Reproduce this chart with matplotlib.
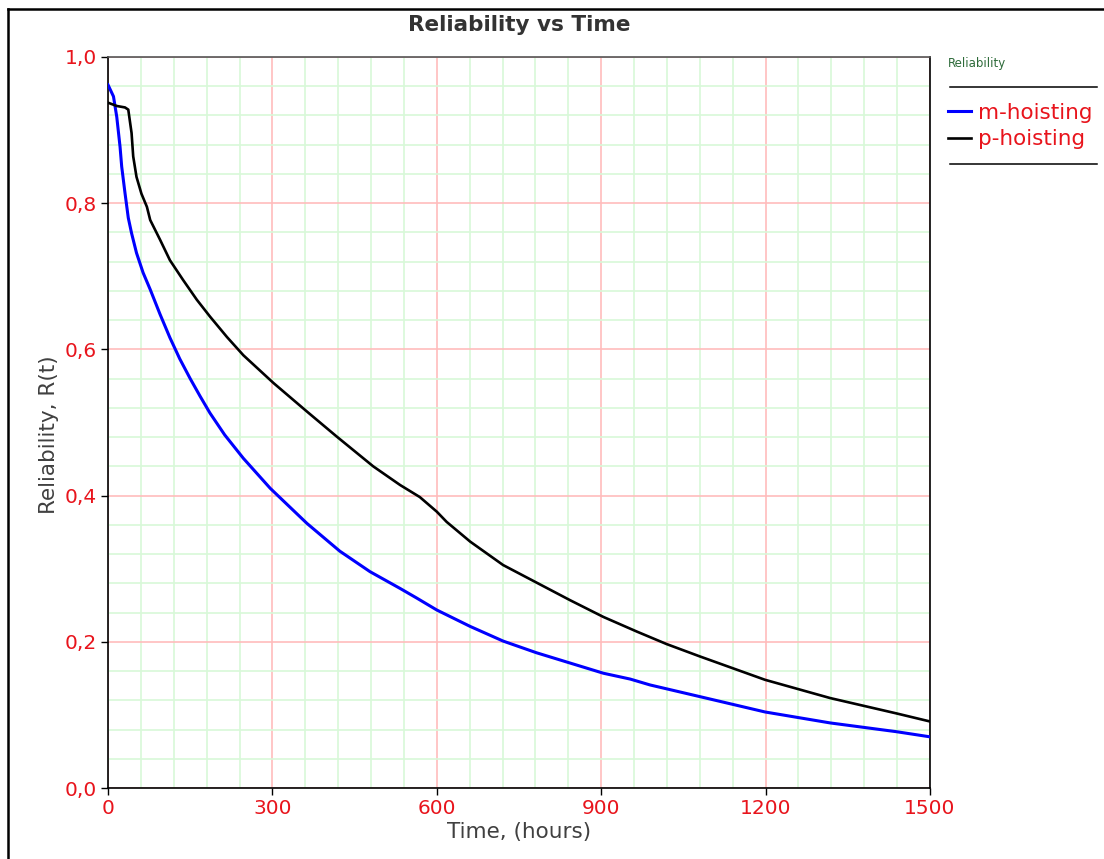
import matplotlib
matplotlib.use("Agg")
import matplotlib.pyplot as plt
from matplotlib.lines import Line2D
from matplotlib.ticker import MultipleLocator, FuncFormatter

# ---- data ----
m_time = [0, 10, 16, 22, 25, 31, 37, 43, 52, 64, 77, 95, 113, 131, 150, 168, 186,
          213, 247, 296, 363, 423, 478, 533, 563, 600, 661, 721, 782, 843, 904, 953,
          989, 1080, 1199, 1318, 1439, 1500]
m_rel = [0.962, 0.946, 0.918, 0.877, 0.850, 0.814, 0.780, 0.759, 0.732, 0.705, 0.682,
         0.648, 0.616, 0.587, 0.560, 0.536, 0.513, 0.483, 0.451, 0.410, 0.362, 0.324,
         0.296, 0.273, 0.260, 0.2435, 0.221, 0.201, 0.185, 0.171, 0.157, 0.149,
         0.141, 0.125, 0.104, 0.089, 0.077, 0.070]

p_time = [0, 16, 31, 37, 43, 46, 52, 61, 71, 77, 95, 113, 137, 162, 186, 217, 247,
          302, 363, 417, 484, 533, 569, 600, 618, 661, 721, 782, 843, 904, 965, 1019,
          1080, 1199, 1318, 1439, 1500]
p_rel = [0.9375, 0.933, 0.931, 0.928, 0.896, 0.864, 0.836, 0.813, 0.795, 0.777, 0.750,
         0.722, 0.695, 0.668, 0.645, 0.617, 0.592, 0.554, 0.515, 0.481, 0.440, 0.4145,
         0.398, 0.378, 0.364, 0.337, 0.305, 0.281, 0.257, 0.234, 0.214, 0.197, 0.180,
         0.148, 0.123, 0.102, 0.091]

series_labels = ["m-hoisting", "p-hoisting"]
series_colors = ["#0000ff", "#000000"]
x_ticks = [0, 300, 600, 900, 1200, 1500]
y_ticks = [0.0, 0.2, 0.4, 0.6, 0.8, 1.0]

W, H = 1104, 859
fig = plt.figure(figsize=(W / 100, H / 100), dpi=100)
ax = fig.add_axes([108 / W, 1 - 788 / H, (930 - 108) / W, (788 - 57) / H])

l1, = ax.plot(m_time, m_rel, color=series_colors[0], lw=2.2, label=series_labels[0],
              solid_joinstyle="round", zorder=4)
l2, = ax.plot(p_time, p_rel, color=series_colors[1], lw=1.9, label=series_labels[1],
              solid_joinstyle="round", zorder=5)

ax.set_xlim(0, 1500)
ax.set_ylim(0, 1.0)
ax.set_xticks(x_ticks)
ax.set_yticks(y_ticks)
ax.xaxis.set_minor_locator(MultipleLocator(60))
ax.yaxis.set_minor_locator(MultipleLocator(0.04))
ax.yaxis.set_major_formatter(FuncFormatter(lambda v, p: f"{v:.1f}".replace(".", ",")))
ax.tick_params(which="major", direction="out", length=5, width=1, color="black",
               labelcolor="#e8141c", labelsize=14.5, pad=3)
ax.tick_params(which="minor", length=0)

ax.grid(which="minor", color="#d8f8d8", lw=1.2, zorder=0)
ax.grid(which="major", color="#ffbcbc", lw=1.2, zorder=1)
ax.set_axisbelow(True)
for s in ax.spines.values():
    s.set_color("black")
    s.set_linewidth(1.2)
ax.spines["top"].set_color("#555555")

ax.set_xlabel("Time, (hours)", fontsize=15.5, color="#404040", labelpad=3)
ax.set_ylabel("Reliability, R(t)", fontsize=15.5, color="#404040")
ax.yaxis.set_label_coords(-0.060, 0.483)
fig.text(519 / W, 1 - 25 / H, "Reliability vs Time", ha="center", va="center",
         fontsize=15.5, fontweight="bold", color="#333333")

# legend area
fig.text(948 / W, 1 - 63 / H, "Reliability", fontsize=8.5, color="#2e6b3a",
         ha="left", va="center")
fig.add_artist(Line2D([950 / W, 1097 / W], [1 - 87 / H, 1 - 87 / H], color="black", lw=1.1))
fig.add_artist(Line2D([950 / W, 1097 / W], [1 - 164 / H, 1 - 164 / H], color="black", lw=1.1))
fig.legend(handles=[l1, l2], loc="upper left", bbox_to_anchor=(937 / W, 1 - 92 / H),
           frameon=False, fontsize=15.5, labelcolor="#e8141c", handlelength=1.1,
           handletextpad=0.3, labelspacing=0.3, borderpad=0)

# outer frame
fig.add_artist(Line2D([8 / W, 8 / W], [0, 1 - 9 / H], color="black", lw=1.8))
fig.add_artist(Line2D([8 / W, 1], [1 - 9 / H, 1 - 9 / H], color="black", lw=1.8))

fig.savefig("out.png", dpi=100)
